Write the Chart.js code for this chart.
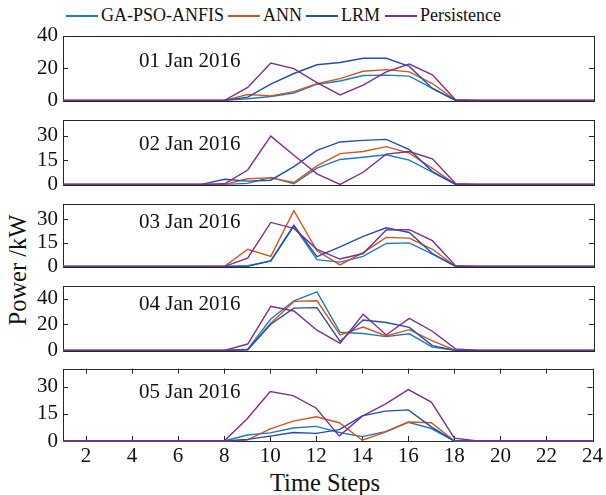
<!DOCTYPE html>
<html><head><meta charset="utf-8">
<script src="https://cdn.jsdelivr.net/npm/chart.js@4/dist/chart.umd.min.js"></script>
<style>
html,body{margin:0;padding:0;background:#fff}
body{width:606px;height:495px;position:relative;overflow:hidden;font-family:"Liberation Serif","Times New Roman",serif;color:#111}
canvas{position:absolute;left:0}
.li{position:absolute;top:3px;white-space:nowrap;font-size:18px;line-height:24px}
.sw{display:inline-block;width:32px;height:1.5px;vertical-align:middle;margin-right:3px;position:relative;top:-1px}
.day{position:absolute;left:139px;font-size:21px;line-height:24px;white-space:nowrap}
#ylab{position:absolute;left:-42px;top:256px;width:120px;text-align:center;font-size:24.5px;line-height:28px;transform:rotate(-90deg);white-space:nowrap}
#xlab{position:absolute;left:225px;top:469px;width:200px;text-align:center;font-size:24.5px;line-height:28px}
</style></head>
<body>
<div id="legend"></div>
<div id="ylab">Power /kW</div>
<div id="xlab">Time Steps</div>
<script>
// ---------- data ----------
const hours = [1,2,3,4,5,6,7,8,9,10,11,12,13,14,15,16,17,18,19,20,21,22,23,24];
const xTicks = [2,4,6,8,10,12,14,16,18,20,22,24];
const seriesNames = ['GA-PSO-ANFIS','ANN','LRM','Persistence'];
const seriesColors = ['#1C7BC9','#D95319','#1F4EB4','#7E2F8E'];
const dayLabels = ['01 Jan 2016','02 Jan 2016','03 Jan 2016','04 Jan 2016','05 Jan 2016'];
const yMax = [40,40,40,50,40];
const yTicksA = [0,20,40];
const yTicksB = [0,15,30];

const day1GA   = [0,0,0,0,0,0,0,0,1.0,2.4,4.6,10.0,12.0,15.4,15.6,15.0,7.4,0,0,0,0,0,0,0];
const day1ANN  = [0,0,0,0,0,0,0,0,3.6,2.8,5.4,10.4,13.4,18.0,19.0,17.6,10.4,0,0,0,0,0,0,0];
const day1LRM  = [0,0,0,0,0,0,0,0,2.0,10.0,16.6,22.0,23.4,26.0,26.0,21.0,7.4,0,0,0,0,0,0,0];
const day1Pers = [0,0,0,0,0,0,0,0,8.0,23.0,19.6,11.0,3.4,9.4,17.6,22.4,15.8,0.4,0,0,0,0,0,0];

const day2GA   = [0,0,0,0,0,0,0,0,0.6,4.3,0.4,10.0,15.4,16.8,18.3,15.0,7.5,0,0,0,0,0,0,0];
const day2ANN  = [0,0,0,0,0,0,0,0,3.5,4.0,1.2,11.4,19.0,20.3,23.3,19.3,9.9,0,0,0,0,0,0,0];
const day2LRM  = [0,0,0,0,0,0,0,3.2,2.0,2.6,11.0,21.0,26.2,27.2,27.8,21.5,7.9,0,0,0,0,0,0,0];
const day2Pers = [0,0,0,0,0,0,0,0.4,8.9,29.8,18.0,6.5,0,7.5,18.7,20.3,15.8,0.5,0,0,0,0,0,0];

const day3GA   = [0,0,0,0,0,0,0,0,0.4,3.3,25.7,4.3,2.7,6.4,14.6,15.0,7.8,0,0,0,0,0,0,0];
const day3ANN  = [0,0,0,0,0,0,0,0,10.9,6.4,35.5,9.9,1.0,8.8,18.5,18.0,10.9,0,0,0,0,0,0,0];
const day3LRM  = [0,0,0,0,0,0,0,0,0,3.7,26.3,6.2,12.5,19.1,24.6,21.6,8.2,0,0,0,0,0,0,0];
const day3Pers = [0,0,0,0,0,0,0,0,5.3,28.0,24.2,10.9,4.7,8.2,23.2,23.4,16.4,0.5,0,0,0,0,0,0];

const day4GA   = [0,0,0,0,0,0,0,0,1.0,24.2,38.3,45.2,14.0,13.0,10.6,12.8,2.5,0,0,0,0,0,0,0];
const day4ANN  = [0,0,0,0,0,0,0,0,0.5,21.0,37.8,38.3,11.9,18.0,11.1,16.0,7.4,0,0,0,0,0,0,0];
const day4LRM  = [0,0,0,0,0,0,0,0,0.5,20.2,32.6,33.0,6.9,23.5,21.5,17.8,3.7,0,0,0,0,0,0,0];
const day4Pers = [0,0,0,0,0,0,0,0,4.9,34.0,30.4,15.6,5.4,27.9,11.9,24.7,14.8,1.2,0,0,0,0,0,0];

const day5GA   = [0,0,0,0,0,0,0,0,3.3,4.5,7.2,8.1,4.7,2.4,5.1,10.3,6.9,0,0,0,0,0,0,0];
const day5ANN  = [0,0,0,0,0,0,0,0,0.5,6.7,11.0,13.4,10.1,0.4,4.9,10.5,10.1,0,0,0,0,0,0,0];
const day5LRM  = [0,0,0,0,0,0,0,0,0.9,2.7,4.7,4.2,6.3,13.9,16.5,17.2,7.8,0,0,0,0,0,0,0];
const day5Pers = [0,0,0,0,0,0,0,0,12.3,27.3,25.1,18.1,2.7,13.7,20.4,28.4,21.5,1.6,0,0,0,0,0,0];

const days = [
  [day1GA, day1ANN, day1LRM, day1Pers],
  [day2GA, day2ANN, day2LRM, day2Pers],
  [day3GA, day3ANN, day3LRM, day3Pers],
  [day4GA, day4ANN, day4LRM, day4Pers],
  [day5GA, day5ANN, day5LRM, day5Pers]
];
const yTickSets = [yTicksA, yTicksB, yTicksB, yTicksA, yTicksB];

// ---------- layout ----------
const W = 606, PLOT_LEFT = 63, PLOT_RIGHT = 594, PAD = 16;
const panelBox = [[34,102],[118,186],[202,268],[284,352],[367,441]];
const dayLabelTop = [48,131,209,291,379];
const legendLeft = [66,228,306,385];
const AXIS_COLOR = '#262626';
const FONT = '"Liberation Serif", "Times New Roman", serif';

// legend (HTML)
const lg = document.getElementById('legend');
seriesNames.forEach((n,i)=>{
  const d = document.createElement('div');
  d.className='li'; d.style.left = legendLeft[i]+'px';
  d.innerHTML = '<span class="sw" style="background:'+seriesColors[i]+'"></span>'+n;
  lg.appendChild(d);
});

const boxPlugin = {
  id:'boxPlugin',
  beforeDatasetsDraw(chart, args, opts){
    const {ctx, chartArea:a} = chart;
    const ys = chart.scales.y, xs = chart.scales.x;
    ctx.save();
    ctx.strokeStyle = AXIS_COLOR; ctx.lineWidth = 1;
    ctx.strokeRect(Math.round(a.left)+0.5, Math.round(a.top)+0.5, Math.round(a.right-a.left), Math.round(a.bottom-a.top));
    ctx.beginPath();
    ys.ticks.forEach(t=>{
      const py = Math.round(ys.getPixelForValue(t.value))+0.5;
      ctx.moveTo(a.left, py); ctx.lineTo(a.left+5, py);
      ctx.moveTo(a.right, py); ctx.lineTo(a.right-5, py);
    });
    if (opts.xTicks) {
      xs.ticks.forEach(t=>{
        const px = Math.round(xs.getPixelForValue(t.value))+0.5;
        ctx.moveTo(px, a.bottom); ctx.lineTo(px, a.bottom-5);
        ctx.moveTo(px, a.top); ctx.lineTo(px, a.top+5);
      });
    }
    ctx.stroke();
    ctx.restore();
  }
};

function build(){
days.forEach((series, i)=>{
  const [T,B] = panelBox[i];
  const last = i === days.length-1;
  const cTop = T - PAD;
  const cH = last ? (495 - cTop) : (B - T + 2*PAD);
  const cv = document.createElement('canvas');
  cv.width = W; cv.height = cH;
  cv.style.top = cTop+'px'; cv.style.width = W+'px'; cv.style.height = cH+'px';
  document.body.appendChild(cv);

  const lbl = document.createElement('div');
  lbl.className='day'; lbl.style.top = dayLabelTop[i]+'px'; lbl.textContent = dayLabels[i];
  document.body.appendChild(lbl);

  const datasets = series.map((vals, k)=>({
    label: seriesNames[k],
    data: hours.map((h, j)=>({x:h, y:vals[j]})),
    borderColor: seriesColors[k],
    backgroundColor: seriesColors[k],
    borderWidth: 1.4,
    pointRadius: 0,
    tension: 0,
    fill: false,
    order: k===3 ? 0 : 4-k,
    clip: 3
  }));

  const chart = new Chart(cv, {
    type:'line',
    data:{datasets},
    plugins:[boxPlugin],
    options:{
      responsive:false, animation:false, devicePixelRatio:1,
      layout:{padding:{left:0, right:W-PLOT_RIGHT, top:PAD, bottom: last?0:PAD}},
      plugins:{legend:{display:false}, tooltip:{enabled:false}, boxPlugin:{xTicks:last}},
      scales:{
        x:{
          type:'linear', min:1, max:24,
          display: last,
          afterBuildTicks: s=>{ s.ticks = xTicks.map(v=>({value:v})); },
          afterFit: s=>{ s.height = last ? (cH - PAD - (B - T)) : 0; },
          grid:{display:false, drawTicks:false},
          border:{display:false},
          ticks:{padding:3, color:'#111', font:{family:FONT, size:21}, maxRotation:0, autoSkip:false}
        },
        y:{
          type:'linear', min:0, max:yMax[i],
          afterBuildTicks: s=>{ s.ticks = yTickSets[i].map(v=>({value:v})); },
          afterFit: s=>{ s.width = PLOT_LEFT; },
          grid:{display:false, drawTicks:false},
          border:{display:false},
          ticks:{padding:5, color:'#111', font:{family:FONT, size:21}}
        }
      }
    }
  });
  // correct the chart area so the plot box lands on the intended rows
  const a = chart.chartArea;
  const wantTop = PAD, wantBottom = PAD + (B - T);
  const dTop = wantTop - a.top, dBot = a.bottom - wantBottom;
  if (Math.abs(dTop) > 0.1 || Math.abs(dBot) > 0.1) {
    const p = chart.options.layout.padding;
    p.top = Math.max(0, p.top + dTop);
    if (last) {
      chart.options.scales.x.afterFit = s=>{ s.height = cH - PAD - (B - T) + dBot; };
    } else {
      p.bottom = Math.max(0, p.bottom + dBot);
    }
    chart.update();
  }
});
}
const fontReady = (document.fonts && document.fonts.load) ? document.fonts.load('21px "Liberation Serif"') : Promise.resolve();
fontReady.then(build, build);
</script>
</body></html>
